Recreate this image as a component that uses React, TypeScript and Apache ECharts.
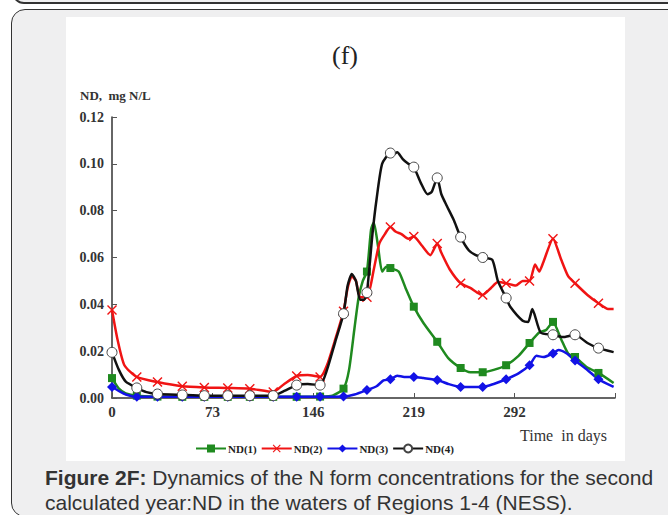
import React, { useEffect, useRef } from "react";
import * as echarts from "echarts";

const markerDays = [0, 18, 33, 51, 67, 84, 100, 117, 134, 151, 168, 185, 202, 219, 236, 253, 269, 286, 303, 320, 336, 353];
const xTicks = [0, 73, 146, 219, 292];
const seriesNames = ["ND(1)", "ND(2)", "ND(3)", "ND(4)"];

const nd1: [number, number][] = [
  [0, 0.0085], [5, 0.004], [10, 0.002], [18, 0.001], [33, 0.0006], [51, 0.0005], [67, 0.0005], [84, 0.0005],
  [100, 0.0005], [117, 0.0005], [134, 0.0005], [151, 0.0006], [160, 0.001], [168, 0.004], [172, 0.012],
  [176, 0.03], [179, 0.043], [182, 0.05], [185, 0.054], [188, 0.072], [190, 0.075], [193, 0.065], [196, 0.054],
  [199, 0.056], [202, 0.0555], [208, 0.054], [213, 0.047], [219, 0.039], [226, 0.032], [236, 0.024],
  [244, 0.017], [253, 0.0128], [260, 0.011], [269, 0.011], [277, 0.012], [286, 0.014], [295, 0.018],
  [303, 0.0235], [310, 0.028], [315, 0.029], [320, 0.0325], [326, 0.025], [331, 0.019], [336, 0.0175],
  [345, 0.013], [353, 0.0107], [364, 0.0064],
];

const nd2: [number, number][] = [
  [0, 0.0376], [4, 0.025], [9, 0.014], [18, 0.009], [33, 0.0068], [51, 0.005], [67, 0.0045], [84, 0.0043],
  [100, 0.004], [117, 0.0026], [125, 0.006], [134, 0.0094], [142, 0.0098], [151, 0.009], [156, 0.014],
  [162, 0.025], [168, 0.037], [171, 0.047], [174, 0.052], [177, 0.05], [180, 0.043], [185, 0.043],
  [190, 0.055], [194, 0.066], [198, 0.07], [202, 0.073], [206, 0.071], [210, 0.07], [215, 0.068],
  [219, 0.069], [225, 0.065], [231, 0.061], [236, 0.066], [239, 0.062], [245, 0.055], [253, 0.049],
  [260, 0.047], [265, 0.045], [269, 0.044], [275, 0.047], [280, 0.0495], [286, 0.049], [293, 0.048],
  [298, 0.05], [303, 0.05], [307, 0.057], [310, 0.054], [313, 0.058], [320, 0.068], [326, 0.059],
  [331, 0.052], [336, 0.049], [345, 0.044], [353, 0.0405], [360, 0.038], [364, 0.038],
];

const nd3: [number, number][] = [
  [0, 0.0047], [5, 0.003], [10, 0.0015], [18, 0.0005], [33, 0.0005], [51, 0.0005], [67, 0.0005], [84, 0.0005],
  [100, 0.0005], [117, 0.0005], [134, 0.0005], [151, 0.0005], [168, 0.0006], [176, 0.0015], [185, 0.0034],
  [192, 0.005], [197, 0.0075], [202, 0.008], [207, 0.0095], [212, 0.009], [219, 0.009], [226, 0.0085],
  [236, 0.0077], [244, 0.006], [253, 0.0047], [260, 0.0047], [269, 0.0047], [277, 0.006], [286, 0.008],
  [295, 0.0105], [303, 0.014], [308, 0.018], [313, 0.0175], [320, 0.019], [324, 0.0205], [330, 0.019],
  [336, 0.016], [345, 0.012], [353, 0.008], [364, 0.0047],
];

const nd4: [number, number][] = [
  [0, 0.0195], [5, 0.012], [10, 0.007], [18, 0.0043], [25, 0.0025], [33, 0.0017], [51, 0.0013], [67, 0.001],
  [84, 0.001], [100, 0.001], [117, 0.001], [125, 0.003], [134, 0.0055], [142, 0.006], [151, 0.0055],
  [156, 0.012], [162, 0.024], [168, 0.036], [171, 0.048], [174, 0.053], [177, 0.05], [180, 0.042],
  [183, 0.042], [185, 0.045], [189, 0.07], [192, 0.085], [196, 0.1], [202, 0.1046], [204, 0.104],
  [207, 0.105], [211, 0.102], [215, 0.1], [219, 0.0986], [224, 0.092], [229, 0.087], [232, 0.088],
  [236, 0.094], [239, 0.087], [243, 0.082], [248, 0.076], [253, 0.0687], [259, 0.063], [264, 0.061],
  [269, 0.06], [276, 0.059], [280, 0.05], [286, 0.0427], [289, 0.039], [298, 0.033], [302, 0.0325],
  [305, 0.038], [311, 0.028], [320, 0.027], [327, 0.026], [336, 0.027], [345, 0.0235], [353, 0.0213],
  [364, 0.0196],
];

const SERIF = "'Liberation Serif', 'Times New Roman', serif";
const X_PATH = "path://M1,0 L5,4 L9,0 L10,1 L6,5 L10,9 L9,10 L5,6 L1,10 L0,9 L4,5 L0,1 Z";

function toItems(points: [number, number][]) {
  return points.map(([d, v]) =>
    markerDays.includes(d) ? { value: [d, v] } : { value: [d, v], symbol: "none" }
  );
}

export default function App() {
  const ref = useRef<HTMLDivElement>(null);

  useEffect(() => {
    if (!ref.current) return;
    const chart = echarts.init(ref.current, null, { renderer: "svg" });
    const base = {
      type: "line" as const,
      smooth: 0.2,
      showSymbol: true,
      showAllSymbol: true,
      z: 2,
    };
    chart.setOption({
      animation: false,
      backgroundColor: "#ffffff",
      grid: { left: 46, top: 100, width: 503, height: 281, containLabel: false },
      legend: {
        left: 124,
        top: 421,
        itemWidth: 30,
        itemHeight: 10,
        itemGap: 4,
        data: seriesNames,
        textStyle: { fontFamily: SERIF, fontWeight: "bold", fontSize: 11, color: "#222", padding: [0, 0, 0, -3] },
      },
      graphic: [
        { type: "text", left: 266, top: 25, style: { text: "(f)", font: `26px ${SERIF}`, fill: "#222" } },
        { type: "text", left: 14, top: 72, style: { text: "ND,  mg N/L", font: `bold 13px ${SERIF}`, fill: "#333" } },
        { type: "text", left: 454, top: 410, style: { text: "Time  in days", font: `16px ${SERIF}`, fill: "#333" } },
      ],
      xAxis: {
        type: "value",
        min: 0,
        max: 365,
        interval: 73,
        axisLine: { lineStyle: { color: "#333", width: 1.5 } },
        axisTick: { inside: true, length: 5, lineStyle: { color: "#555" } },
        splitLine: { show: false },
        axisLabel: {
          fontFamily: SERIF,
          fontWeight: "bold",
          fontSize: 15,
          color: "#333",
          margin: 6,
          formatter: (v: number) => (xTicks.includes(v) ? String(v) : ""),
        },
      },
      yAxis: {
        type: "value",
        min: 0,
        max: 0.12,
        interval: 0.02,
        axisLine: { show: true, lineStyle: { color: "#333", width: 1.5 } },
        axisTick: { show: true, inside: true, length: 5, lineStyle: { color: "#555" } },
        splitLine: { show: false },
        axisLabel: {
          fontFamily: SERIF,
          fontWeight: "bold",
          fontSize: 14,
          color: "#333",
          margin: 8,
          formatter: (v: number) => v.toFixed(2),
        },
      },
      series: [
        {
          ...base,
          name: seriesNames[0],
          data: toItems(nd1),
          symbol: "rect",
          symbolSize: 8,
          lineStyle: { color: "#1f8a1f", width: 2.5 },
          itemStyle: { color: "#1f8a1f" },
        },
        {
          ...base,
          name: seriesNames[1],
          data: toItems(nd2),
          symbol: X_PATH,
          symbolSize: 10,
          lineStyle: { color: "#f01414", width: 2.5 },
          itemStyle: { color: "#f01414" },
        },
        {
          ...base,
          name: seriesNames[2],
          data: toItems(nd3),
          symbol: "diamond",
          symbolSize: 10,
          lineStyle: { color: "#1212e6", width: 2.5 },
          itemStyle: { color: "#1212e6" },
        },
        {
          ...base,
          name: seriesNames[3],
          data: toItems(nd4),
          symbol: "circle",
          symbolSize: 10,
          z: 3,
          lineStyle: { color: "#111", width: 2.5 },
          itemStyle: { color: "#ffffff", borderColor: "#444", borderWidth: 1 },
        },
      ],
    });
    return () => chart.dispose();
  }, []);

  return (
    <div style={{ position: "absolute", left: 0, top: 0, width: 668, height: 515, overflow: "hidden", background: "#ffffff" }}>
      <div
        style={{
          position: "absolute", left: 12, top: -100, width: 700, height: 100,
          border: "2px solid #333", borderRadius: 12, background: "#f0f0f1",
        }}
      />
      <div
        style={{
          position: "absolute", left: 11, top: 9, width: 700, height: 506,
          border: "1.5px solid #333", borderRadius: 14, background: "#efeff0",
        }}
      />
      <div ref={ref} style={{ position: "absolute", left: 66, top: 17, width: 559, height: 444 }} />
      <div
        style={{
          position: "absolute", left: 45, top: 465, whiteSpace: "nowrap",
          fontFamily: "'Liberation Sans', Arial, sans-serif", fontSize: 21, color: "#333", lineHeight: "25px",
        }}
      >
        <div><b>Figure 2F:</b> Dynamics of the N form concentrations for the second</div>
        <div>calculated year:ND in the waters of Regions 1-4 (NESS).</div>
      </div>
    </div>
  );
}
